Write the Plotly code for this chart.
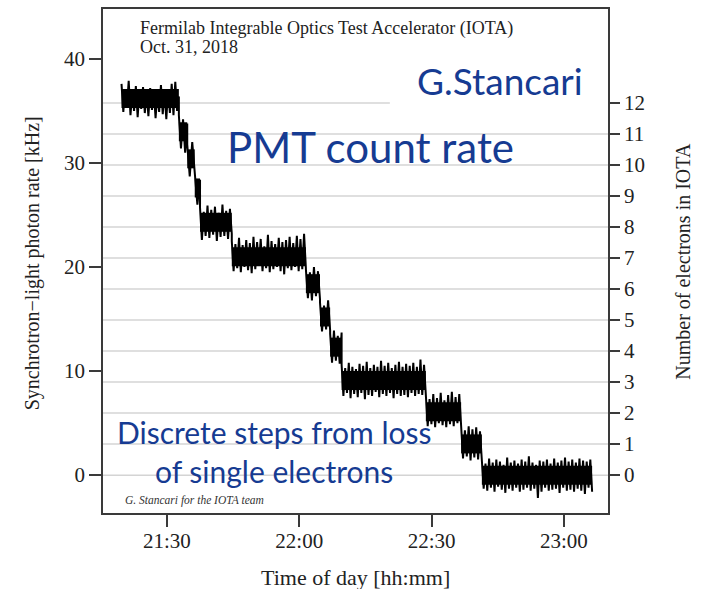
import pandas as pd
import plotly.graph_objects as go

DAY = "2018-10-31"

# Plateaus of the photon rate: start / end in minutes after 21:00
step_start = [19.7, 32.7, 34.6, 36.3, 37.5, 44.7, 61.5, 64.7, 67.0, 69.6, 88.7, 96.7, 101.4]
step_end = [32.7, 34.6, 36.3, 37.5, 44.7, 61.5, 64.7, 67.0, 69.6, 88.7, 96.7, 101.4, 126.4]
electrons = [12, 11, 10, 9, 8, 7, 6, 5, 4, 3, 2, 1, 0]
plateau_rate = [36.2, 33.0, 30.4, 27.6, 24.3, 21.0, 18.4, 15.2, 12.3, 9.1, 6.1, 3.0, 0.0]

# PMT count rate readings [kHz] on each plateau (evenly spaced in time)
rate_n12 = [37.6, 34.9, 37.1, 35.3, 37.9, 34.6, 36.8, 35.0, 37.4, 34.4, 37.0, 35.2, 37.3, 34.8,
            36.9, 34.5, 37.2, 35.1, 37.0, 34.3, 36.7, 34.9, 37.5, 34.7, 36.9, 34.2, 37.1, 34.8,
            37.6, 34.6, 37.8, 35.0, 36.4]
rate_n11 = [34.6, 31.4, 34.2, 31.0, 33.8]
rate_n10 = [31.8, 28.7, 32.0, 29.2]
rate_n9 = [28.9, 26.0, 28.4]
rate_n8 = [25.7, 22.6, 25.3, 23.0, 25.9, 22.8, 25.5, 23.1, 25.8, 22.5, 25.2, 22.9, 26.0, 23.0,
           25.4, 22.7, 25.6, 23.2]
rate_n7 = [22.5, 19.6, 22.2, 19.9, 22.8, 19.5, 22.1, 20.0, 22.6, 19.7, 22.3, 19.4, 22.9, 19.8,
           22.4, 20.1, 22.7, 19.6, 22.0, 19.9, 23.1, 19.5, 22.5, 19.8, 22.2, 20.0, 22.8, 19.6,
           22.4, 19.3, 22.6, 19.9, 22.9, 19.7, 22.3, 20.0, 23.0, 19.6, 22.7, 19.8, 23.2, 19.9]
rate_n6 = [19.8, 17.0, 19.5, 16.8, 20.0, 17.2, 19.6, 16.9]
rate_n5 = [16.6, 13.8, 16.3, 14.0, 16.8, 13.9]
rate_n4 = [13.6, 10.8, 13.9, 11.0, 13.4, 10.7, 13.7]
rate_n3 = [10.6, 7.6, 10.3, 7.9, 10.8, 7.4, 10.4, 7.8, 10.2, 7.5, 10.7, 7.9, 10.5, 7.3, 10.9,
           7.7, 10.3, 7.6, 10.6, 8.0, 10.4, 7.5, 11.0, 7.8, 10.5, 7.6, 10.8, 7.9, 10.3, 7.4,
           10.6, 7.8, 10.9, 7.6, 10.4, 7.7, 10.7, 7.5, 10.5, 7.9, 10.8, 7.6, 10.4, 7.8, 11.1,
           7.7, 10.6, 7.9]
rate_n2 = [7.6, 4.7, 7.3, 4.9, 7.8, 4.6, 7.4, 5.0, 7.9, 4.8, 7.2, 4.6, 7.7, 4.9, 8.0, 4.7, 7.5,
           5.0, 7.8, 4.8]
rate_n1 = [4.5, 1.6, 4.3, 1.8, 4.7, 1.4, 4.4, 1.7, 4.6, 1.5, 4.2, 1.9]
rate_n0 = [1.4, -1.3, 1.1, -1.5, 1.6, -1.2, 1.2, -1.6, 1.5, -1.1, 1.3, -1.4, 1.0, -1.7, 1.7,
           -1.3, 1.2, -1.5, 1.4, -1.2, 1.1, -1.6, 1.5, -1.4, 1.3, -1.2, 1.8, -1.5, 1.2, -1.3,
           1.0, -2.2, 1.4, -1.6, 1.3, -1.2, 1.5, -1.5, 1.1, -1.4, 1.6, -1.3, 1.2, -1.7, 1.4,
           -1.2, 1.7, -1.5, 1.3, -1.4, 1.5, -1.6, 1.2, -1.3, 1.6, -1.5, 1.4, -1.8, 1.3, -1.2,
           1.5, -1.6]
readings = [rate_n12, rate_n11, rate_n10, rate_n9, rate_n8, rate_n7, rate_n6,
            rate_n5, rate_n4, rate_n3, rate_n2, rate_n1, rate_n0]

left_ticks = [0, 10, 20, 30, 40]
time_ticks = ["21:30", "22:00", "22:30", "23:00"]
KHZ_PER_ELECTRON = 2.98

t0 = pd.Timestamp(f"{DAY} 21:00")


def at(minutes):
    return t0 + pd.to_timedelta(minutes, unit="min")


# noisy trace: readings spread evenly across each plateau
trace_t, trace_r = [], []
for s, e, vals in zip(step_start, step_end, readings):
    n = len(vals)
    for i, v in enumerate(vals):
        trace_t.append(at(s + (e - s) * i / (n - 1)))
        trace_r.append(v)

# mean level of each plateau, drawn as separate segments
core_t, core_r = [], []
for s, e, lvl in zip(step_start, step_end, plateau_rate):
    core_t += [at(s), at(e), None]
    core_r += [lvl, lvl, None]

SERIF = '"Liberation Serif", "Times New Roman", serif'
SANS = "Lato"
BLUE = "#163b92"
AX = "#3a3a3a"
TXT = "#222222"

fig = go.Figure()
fig.add_trace(go.Scatter(x=core_t, y=core_r, mode="lines",
                         line=dict(color="black", width=19), hoverinfo="skip",
                         showlegend=False, connectgaps=False))
fig.add_trace(go.Scatter(x=trace_t, y=trace_r, mode="lines",
                         line=dict(color="black", width=2), showlegend=False))
# invisible trace to bring up the electron-count axis
fig.add_trace(go.Scatter(x=[at(step_start[0])], y=[electrons[0]], yaxis="y2",
                         mode="markers", marker=dict(opacity=0), showlegend=False,
                         hoverinfo="skip"))

y_lo, y_hi = -3.64, 44.8

# horizontal guide lines at each electron count
for n in electrons:
    fig.add_shape(type="line", xref="paper", yref="y2", x0=0,
                  x1=0.568 if n == max(electrons) else 1, y0=n, y1=n,
                  line=dict(color="#d4d4d4", width=1.5), layer="below")

fig.update_layout(
    width=703, height=589,
    margin=dict(l=103, r=95, t=7, b=76),
    paper_bgcolor="white", plot_bgcolor="white",
    font=dict(family=SERIF, color=TXT),
    xaxis=dict(
        type="date",
        range=[at(15.5), at(130.0)],
        tickvals=[pd.Timestamp(f"{DAY} {t}") for t in time_ticks],
        ticktext=time_ticks,
        ticks="outside", ticklen=12, tickwidth=1.5, tickcolor=AX,
        ticklabelstandoff=-4,
        showline=True, linecolor=AX, linewidth=1.5, mirror=True,
        showgrid=False, zeroline=False,
        tickfont=dict(size=21, family=SERIF, color=TXT),
    ),
    yaxis=dict(
        range=[y_lo, y_hi],
        tickvals=left_ticks,
        ticks="outside", ticklen=12, tickwidth=1.5, tickcolor=AX,
        showline=True, linecolor=AX, linewidth=1.5, mirror=True,
        showgrid=False, zeroline=False,
        tickfont=dict(size=21, family=SERIF, color=TXT),
    ),
    yaxis2=dict(
        overlaying="y", side="right",
        range=[y_lo / KHZ_PER_ELECTRON, y_hi / KHZ_PER_ELECTRON],
        tickvals=electrons,
        ticks="outside", ticklen=10, tickwidth=1.5, tickcolor=AX,
        showline=True, linecolor=AX, linewidth=1.5,
        showgrid=False, zeroline=False,
        tickfont=dict(size=21, family=SERIF, color=TXT),
    ),
)


def label(text, x, y, size, family, color=TXT, angle=0, xanchor="center"):
    return dict(text=text, x=x, y=y, xref="paper", yref="paper", showarrow=False,
                xanchor=xanchor, yanchor="middle", textangle=angle,
                font=dict(size=size, family=family, color=color))


annotations = [
    # axis titles
    label("Time of day [hh:mm]", 0.5, -0.128, 22, SERIF),
    label("Synchrotron\u2212light photon rate [kHz]", -0.139, 0.495, 20, SERIF, angle=-90),
    label("Number of electrons in IOTA", 1.148, 0.5, 20, SERIF, angle=-90),
    # heading inside the frame
    label("Fermilab Integrable Optics Test Accelerator (IOTA)", 0.069, 0.962, 18, SERIF,
          xanchor="left"),
    label("Oct. 31, 2018", 0.069, 0.925, 18, SERIF, xanchor="left"),
    label("<i>G. Stancari for the IOTA team</i>", 0.04, 0.024, 11.5, SERIF, color="#333333",
          xanchor="left"),
    # overlay labels
    label("G.Stancari", 0.786, 0.859, 37, SANS, color=BLUE),
    label("PMT count rate", 0.529, 0.727, 42, SANS, color=BLUE),
    label("Discrete steps from loss", 0.339, 0.160, 30, SANS, color=BLUE),
    label("of single electrons", 0.339, 0.083, 30, SANS, color=BLUE),
]
fig.update_layout(annotations=annotations)

fig.write_html("out.html")
